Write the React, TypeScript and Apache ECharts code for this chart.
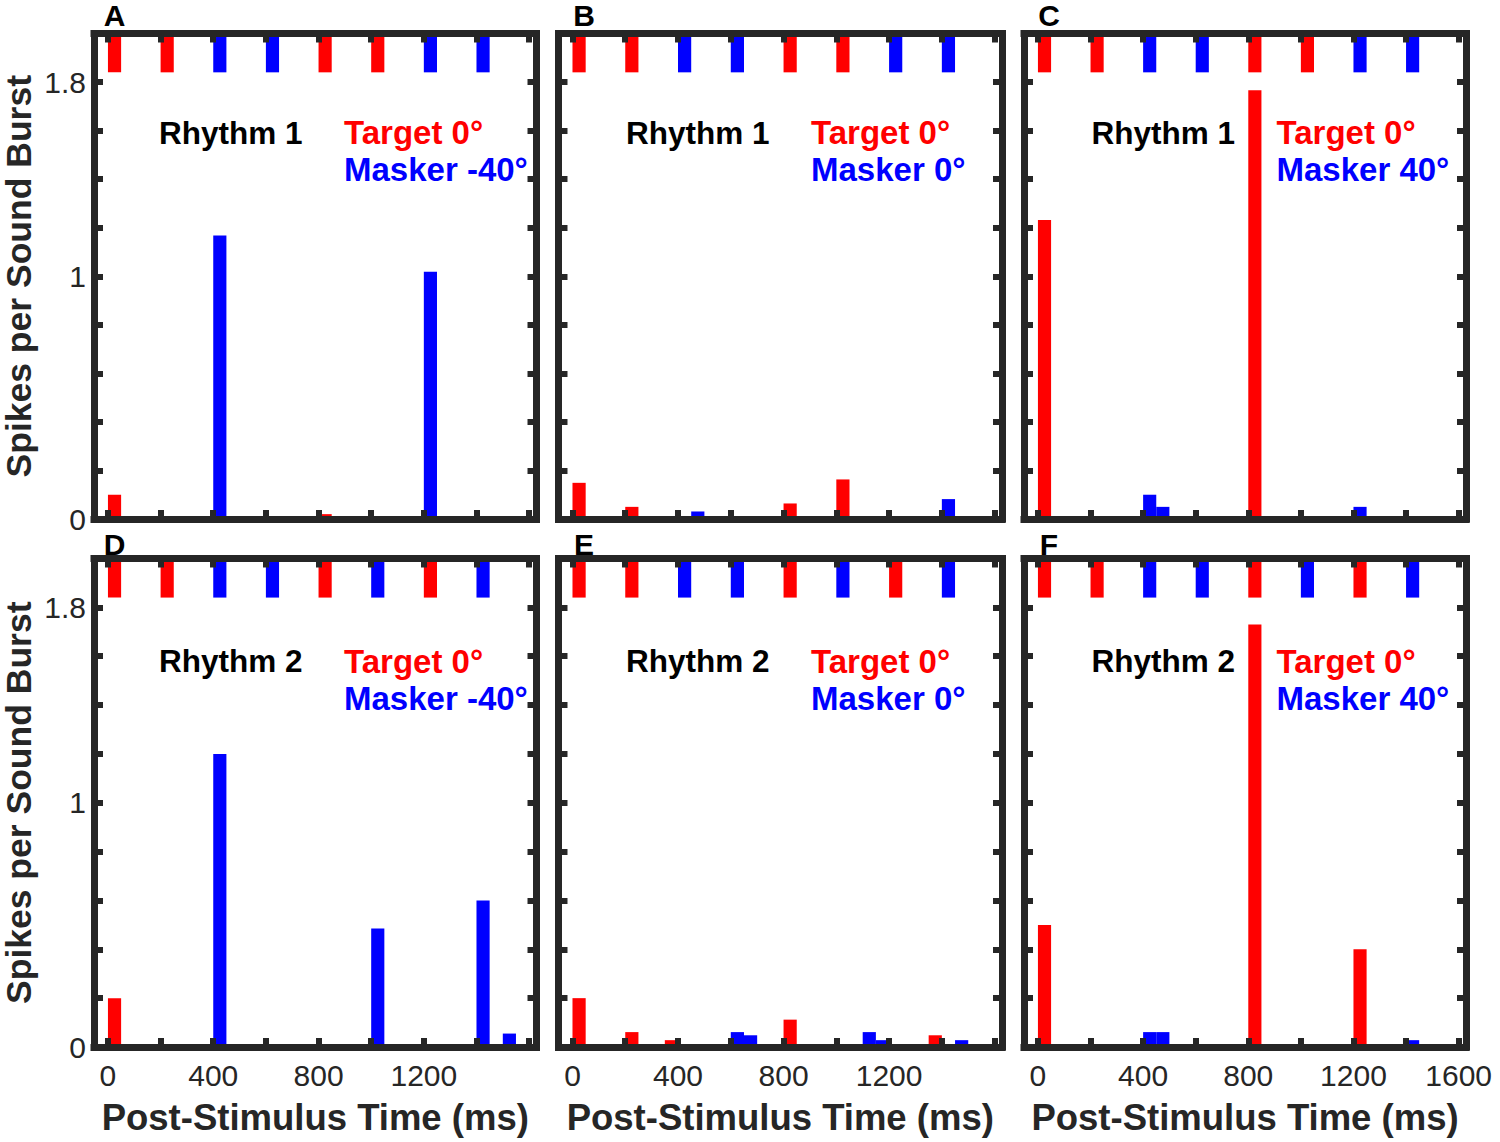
import React, { useEffect, useRef } from "react";
import * as echarts from "echarts";

// ---------- data ----------
const BIN_MS = 50;
const MARK_MS = 50;
const X_MIN = -53;
const X_MAX = 1628;
const Y_MIN = 0;
const Y_MAX = 2;
const MARK_BOTTOM = 1.84;

const xTickValues = [0, 200, 400, 600, 800, 1000, 1200, 1400, 1600];
const yTickValues = [0, 0.2, 0.4, 0.6, 0.8, 1, 1.2, 1.4, 1.6, 1.8];
const yTickLabels = [0, 1, 1.8];
const xTickLabels = [0, 400, 800, 1200];
const xTickLabelsLast = [0, 400, 800, 1200, 1600];

const panelLetters = ["A", "B", "C", "D", "E", "F"];
const rhythmNames = ["Rhythm 1", "Rhythm 2"];
const targetNames = ["Target 0°", "Target 0°", "Target 0°"];
const maskerNames = ["Masker -40°", "Masker 0°", "Masker 40°"];
const xTitle = "Post-Stimulus Time (ms)";
const yTitle = "Spikes per Sound Burst";

// stimulus burst onsets (ms)
const rhythm1TargetOnsets = [0, 200, 800, 1000];
const rhythm1MaskerOnsets = [400, 600, 1200, 1400];
const rhythm2TargetOnsets = [0, 200, 800, 1200];
const rhythm2MaskerOnsets = [400, 600, 1000, 1400];

// PSTH bins: [bin start (ms), spikes per sound burst]
const aTarget = [[0, 0.1], [800, 0.02]];
const aMasker = [[400, 1.168], [1200, 1.019]];
const bTarget = [[0, 0.149], [200, 0.05], [800, 0.064], [1000, 0.163]];
const bMasker = [[450, 0.031], [1400, 0.082]];
const cTarget = [[0, 1.232], [800, 1.766]];
const cMasker = [[400, 0.1], [450, 0.05], [1200, 0.05]];
const dTarget = [[0, 0.2]];
const dMasker = [[400, 1.2], [1000, 0.485], [1400, 0.6], [1500, 0.055]];
const eTarget = [[0, 0.2], [200, 0.061], [350, 0.028], [800, 0.112], [1350, 0.048]];
const eMasker = [[600, 0.061], [650, 0.048], [1100, 0.061], [1150, 0.028], [1450, 0.028]];
const fTarget = [[0, 0.5], [800, 1.73], [1200, 0.4]];
const fMasker = [[400, 0.061], [450, 0.061], [1400, 0.028]];

const panelTargets = [aTarget, bTarget, cTarget, dTarget, eTarget, fTarget];
const panelMaskers = [aMasker, bMasker, cMasker, dMasker, eMasker, fMasker];

// ---------- style / layout ----------
const FONT = '"Liberation Sans", Arial, Helvetica, sans-serif';
const FRAME = "#262626";
const RED = "#ff0000";
const BLUE = "#0000ff";

const colLeft = [91.5, 558.5, 1024];
const colWidth = [445, 443.5, 442];
const rowTop = [33.5, 558.5];
const rowHeight = [485.5, 488.5];
const letterX = [114.5, 584, 1049];
const letterY = [15.5, 544];
const line1Y = [132.5, 661];
const line2Y = [169, 698];

const rectRender = (color: string) => (params: any, api: any) => {
  const a = api.coord([api.value(0), api.value(3)]);
  const b = api.coord([api.value(1), api.value(2)]);
  return {
    type: "rect",
    shape: { x: a[0], y: a[1], width: b[0] - a[0], height: b[1] - a[1] },
    style: { fill: color },
  };
};

function textEl(x: number, y: number, text: string, fill: string, font: string, align: string) {
  return {
    type: "text",
    x,
    y,
    z: 20,
    style: {
      text,
      fill,
      font,
      textAlign: align,
      textVerticalAlign: "middle",
      align,
      verticalAlign: "middle",
    },
  };
}

function buildOption() {
  const grid: any[] = [];
  const xAxis: any[] = [];
  const yAxis: any[] = [];
  const series: any[] = [];
  const graphic: any[] = [];

  for (let p = 0; p < 6; p++) {
    const row = Math.floor(p / 3);
    const col = p % 3;
    grid.push({
      left: colLeft[col],
      top: rowTop[row],
      width: colWidth[col],
      height: rowHeight[row],
      show: false,
    });

    const lineStyle = { color: FRAME, width: 7, cap: "square" };
    const tickStyle = { color: FRAME, width: 6 };
    const isBottom = row === 1;
    const isLeft = col === 0;

    xAxis.push({
      type: "value",
      gridIndex: p,
      position: "bottom",
      min: X_MIN,
      max: X_MAX,
      z: 10,
      splitLine: { show: false },
      axisLine: { show: true, onZero: false, lineStyle },
      axisTick: { show: true, inside: true, length: 9, lineStyle: tickStyle, customValues: xTickValues },
      axisLabel: {
        show: isBottom,
        customValues: col === 2 ? xTickLabelsLast : xTickLabels,
        formatter: (v: number) => String(v),
        fontSize: 30,
        fontFamily: FONT,
        color: FRAME,
        margin: 13,
      },
      name: isBottom ? xTitle : "",
      nameLocation: "middle",
      nameGap: 52,
      nameTextStyle: { fontSize: 36.5, fontWeight: "bold", fontFamily: FONT, color: FRAME },
    });
    xAxis.push({
      type: "value",
      gridIndex: p,
      position: "top",
      min: X_MIN,
      max: X_MAX,
      z: 10,
      splitLine: { show: false },
      axisLine: { show: true, onZero: false, lineStyle },
      axisTick: { show: true, inside: true, length: 9, lineStyle: tickStyle, customValues: xTickValues },
      axisLabel: { show: false },
    });
    yAxis.push({
      type: "value",
      gridIndex: p,
      position: "left",
      min: Y_MIN,
      max: Y_MAX,
      z: 10,
      splitLine: { show: false },
      axisLine: { show: true, onZero: false, lineStyle },
      axisTick: { show: true, inside: true, length: 9, lineStyle: tickStyle, customValues: yTickValues },
      axisLabel: {
        show: isLeft,
        customValues: yTickLabels,
        formatter: (v: number) => String(v),
        fontSize: 30,
        fontFamily: FONT,
        color: FRAME,
        margin: 8,
      },
      name: isLeft ? yTitle : "",
      nameLocation: "middle",
      nameGap: 57,
      nameTextStyle: { fontSize: 35.5, fontWeight: "bold", fontFamily: FONT, color: FRAME },
    });
    yAxis.push({
      type: "value",
      gridIndex: p,
      position: "right",
      min: Y_MIN,
      max: Y_MAX,
      z: 10,
      splitLine: { show: false },
      axisLine: { show: true, onZero: false, lineStyle },
      axisTick: { show: true, inside: true, length: 9, lineStyle: tickStyle, customValues: yTickValues },
      axisLabel: { show: false },
    });

    const xi = p * 2;
    const yi = p * 2;
    const tOn = row === 0 ? rhythm1TargetOnsets : rhythm2TargetOnsets;
    const mOn = row === 0 ? rhythm1MaskerOnsets : rhythm2MaskerOnsets;

    const common = {
      type: "custom",
      xAxisIndex: xi,
      yAxisIndex: yi,
      encode: { x: [0, 1], y: [2, 3] },
      silent: true,
      z: 2,
    };
    series.push({
      ...common,
      name: "target" + p,
      renderItem: rectRender(RED),
      data: panelTargets[p].map((d) => [d[0], d[0] + BIN_MS, 0, d[1]]),
    });
    series.push({
      ...common,
      name: "masker" + p,
      renderItem: rectRender(BLUE),
      data: panelMaskers[p].map((d) => [d[0], d[0] + BIN_MS, 0, d[1]]),
    });
    series.push({
      ...common,
      name: "targetStim" + p,
      renderItem: rectRender(RED),
      data: tOn.map((t) => [t, t + MARK_MS, MARK_BOTTOM, Y_MAX]),
    });
    series.push({
      ...common,
      name: "maskerStim" + p,
      renderItem: rectRender(BLUE),
      data: mOn.map((t) => [t, t + MARK_MS, MARK_BOTTOM, Y_MAX]),
    });

    graphic.push(textEl(letterX[col], letterY[row], panelLetters[p], "#000", `bold 30px ${FONT}`, "center"));
    graphic.push(textEl(colLeft[col] + 67.5, line1Y[row], rhythmNames[row], "#000", `bold 31.5px ${FONT}`, "left"));
    graphic.push(textEl(colLeft[col] + 252.5, line1Y[row], targetNames[col], RED, `bold 33px ${FONT}`, "left"));
    graphic.push(textEl(colLeft[col] + 252.5, line2Y[row], maskerNames[col], BLUE, `bold 33px ${FONT}`, "left"));
  }

  return {
    animation: false,
    backgroundColor: "#ffffff",
    textStyle: { fontFamily: FONT },
    grid,
    xAxis,
    yAxis,
    series,
    graphic,
  };
}

export default function App() {
  const ref = useRef<HTMLDivElement>(null);
  useEffect(() => {
    if (!ref.current) return;
    const chart = echarts.init(ref.current, undefined, { renderer: "svg" });
    chart.setOption(buildOption() as any);
    return () => chart.dispose();
  }, []);
  return (
    <div
      ref={ref}
      style={{ position: "absolute", left: 0, top: 0, width: 1500, height: 1142, background: "#fff" }}
    />
  );
}
